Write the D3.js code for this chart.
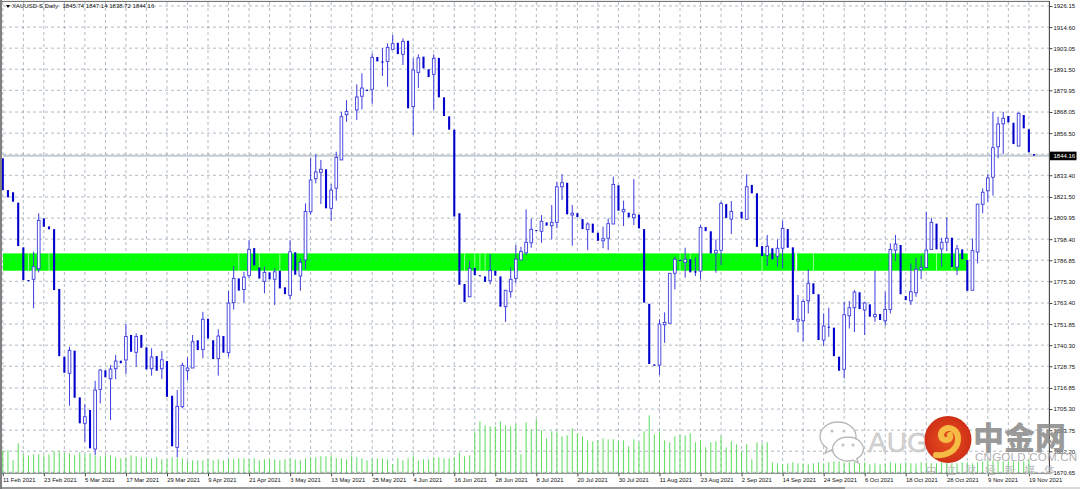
<!DOCTYPE html>
<html><head><meta charset="utf-8">
<script src="https://cdn.jsdelivr.net/npm/d3@7"></script>
<style>html,body{margin:0;padding:0;background:#fff;overflow:hidden}svg{display:block}</style>
</head><body><svg id="c" width="1080" height="489"></svg>
<script>
const dateLabels=["11 Feb 2021","23 Feb 2021","5 Mar 2021","17 Mar 2021","29 Mar 2021","9 Apr 2021","21 Apr 2021","3 May 2021","13 May 2021","25 May 2021","4 Jun 2021","16 Jun 2021","28 Jun 2021","8 Jul 2021","20 Jul 2021","30 Jul 2021","11 Aug 2021","23 Aug 2021","2 Sep 2021","14 Sep 2021","24 Sep 2021","6 Oct 2021","18 Oct 2021","28 Oct 2021","9 Nov 2021","19 Nov 2021"];
const priceTicks=[1926.15,1914.60,1903.05,1891.50,1879.95,1868.05,1856.50,1833.40,1821.50,1809.95,1798.40,1786.85,1775.30,1763.40,1751.85,1740.30,1728.75,1716.85,1705.30,1693.75,1682.20,1670.65];
const gridPrices=[1926.15,1914.60,1903.05,1891.50,1879.95,1868.05,1856.50,1844.95,1833.40,1821.50,1809.95,1798.40,1786.85,1775.30,1763.40,1751.85,1740.30,1728.75,1716.85,1705.30,1693.75,1682.20,1670.65];
const lastPrice=1844.16;
const bandTop=1790.6, bandBottom=1781.1, bandLastBar=188;
const bandStreakBars=[5,9,46,50,54,90,92,93,94,132,133,134,148,155,158,182,185];
const opens=[1842.7,1825.3,1824.1,1818.4,1793.9,1776.0,1776.4,1782.2,1809.8,1805.4,
1803.9,1771.1,1734.0,1724.9,1737.3,1711.7,1697.5,1704.8,1683.4,1716.1,
1726.5,1721.9,1727.4,1731.8,1732.2,1745.9,1736.4,1745.9,1739.1,1727.4,
1734.3,1727.4,1731.6,1712.6,1684.3,1706.6,1726.3,1727.8,1743.0,1738.0,
1754.8,1743.0,1732.9,1745.3,1736.2,1763.6,1776.9,1770.8,1778.4,1793.5,
1782.9,1775.3,1780.2,1776.4,1781.1,1772.0,1767.6,1791.2,1778.2,1787.0,
1813.4,1831.5,1835.0,1836.7,1815.3,1826.3,1841.8,1866.6,null,1869.2,
1876.7,1880.3,1880.5,1898.2,1895.8,1895.8,1902.4,1906.0,1899.7,1907.1,
1871.0,1889.8,1898.4,1891.5,1888.7,1897.7,1876.1,1865.7,1858.4,1812.6,
1773.8,1766.8,1782.6,1778.6,1778.0,1775.6,1781.1,1778.0,1761.4,1769.6,
1776.9,1787.0,1790.9,1796.4,1803.4,1802.7,1807.6,1805.8,1807.6,1827.1,
1829.3,1811.6,1812.6,1809.4,1803.6,1806.9,1801.9,1797.5,1798.9,1806.7,
1827.9,1813.4,1812.9,1810.1,1811.8,1803.9,1763.0,1729.8,1729.4,1751.5,
1752.3,1779.7,1787.1,1785.7,1787.4,1780.9,1780.9,1805.0,1802.7,1790.8,
1792.3,1817.6,1809.4,null,1813.4,1809.3,1828.1,1823.5,1794.6,1789.5,
1793.4,1789.0,1793.4,1803.9,1793.9,1753.5,1753.7,1764.6,1774.2,1768.2,
1743.1,1750.4,1749.9,1734.0,1727.1,1756.4,1760.8,1769.3,1759.6,1762.7,
1755.9,1757.4,1753.7,1759.9,1792.4,1795.2,1767.2,1764.6,1769.0,1781.9,
1782.9,1792.8,1806.9,1793.0,1796.7,1799.2,1783.1,1792.8,1787.0,1770.4,
1791.3,1817.5,1824.9,1832.3,1849.0,1861.6,1865.9,1862.2,1849.4,1866.4,
1858.6,1845.0];
const closes=[1825.3,1821.3,1818.9,1794.6,1776.0,1775.4,1783.3,1808.7,1805.2,1803.8,
1770.5,1734.3,1725.2,1737.5,1711.5,1697.5,1701.1,1683.8,1715.7,1726.7,
1722.7,1727.2,1731.6,1730.4,1745.1,1736.7,1745.1,1738.9,1727.1,1733.8,
1726.3,1732.3,1712.0,1684.9,1706.8,1729.3,1727.8,1742.2,1737.6,1754.5,
1744.0,1732.7,1745.3,1736.2,1763.4,1776.9,1770.2,1777.6,1792.8,1784.0,
1776.8,1780.2,1776.4,1780.5,1771.4,1768.3,1791.5,1778.9,1785.7,1813.6,
1830.8,1835.2,1836.7,1815.3,1825.3,1843.2,1865.5,1868.4,null,1876.3,
1881.2,1879.6,1898.0,1895.8,1895.1,1903.5,1905.5,1899.8,1906.8,1870.1,
1891.1,1897.7,1892.0,1887.2,1897.5,1876.1,1865.9,1858.4,1810.8,1773.4,
1763.9,1782.4,1778.6,1778.1,1775.0,1781.2,1778.4,1761.4,1770.4,1776.4,
1787.4,1791.7,1796.7,1803.8,1802.8,1808.2,1805.8,1807.6,1827.1,1829.3,
1812.0,1812.6,1810.4,1803.9,1806.7,1801.9,1797.5,1798.6,1806.9,1828.4,
1814.0,1814.7,1810.4,1812.0,1804.3,1763.6,1730.0,1729.0,1751.9,1752.8,
1779.7,1787.4,1786.4,1787.4,1780.2,1780.0,1804.9,1802.8,1790.6,1792.3,
1818.0,1810.0,1813.6,null,1809.8,1827.1,1823.5,1794.2,1789.1,1794.5,
1787.4,1793.4,1804.3,1793.7,1754.1,1754.5,1764.3,1774.2,1768.3,1743.1,
1750.8,1749.9,1734.3,1726.3,1757.0,1760.8,1769.4,1760.1,1763.4,1755.9,
1757.2,1754.1,1759.9,1792.8,1795.7,1768.2,1765.0,1769.6,1781.9,1782.9,
1792.4,1807.6,1792.8,1796.7,1798.9,1783.1,1793.1,1787.4,1770.1,1792.1,
1817.6,1824.1,1831.9,1848.5,1861.5,1864.6,1862.4,1850.5,1867.4,1859.1,
1846.0,1844.16];
const highs=[null,null,null,null,null,null,1791.5,1812.6,null,null,
null,null,null,1739.4,null,null,1707.9,null,1720.8,1727.2,
null,1729.4,1734.9,null,1751.9,null,1746.8,null,null,1738.6,
null,1737.1,null,null,1715.7,1730.7,1733.6,1745.9,null,1758.6,
null,null,1749.0,null,1770.0,1783.7,null,1780.5,1797.9,null,
null,1783.3,null,1782.4,null,null,1797.9,null,1787.9,1818.0,
1843.0,1844.9,1841.8,null,1828.6,1846.3,1868.2,1874.6,null,1883.2,
1889.3,null,1900.2,null,1903.0,1905.7,1910.3,null,1908.4,null,
1897.5,1899.7,null,null,1899.7,null,null,null,null,null,
null,1786.5,null,null,null,1790.2,null,null,null,1782.9,
1795.2,1794.2,1814.7,1809.8,null,1811.6,null,1817.1,1829.9,1833.9,
null,1817.1,null,null,1807.6,null,null,1805.2,1809.8,1832.6,
null,1819.5,null,1831.3,null,null,null,null,1754.5,1758.3,
null,1788.8,null,1793.7,null,1788.4,1806.1,null,null,1798.3,
1818.9,null,1819.3,null,null,1833.9,null,null,null,1800.7,
null,1798.3,1808.5,null,null,1767.8,1765.4,1781.9,null,null,
1757.7,1760.8,null,null,1764.1,1764.5,1770.5,null,1764.1,null,
1781.1,null,1769.6,1796.1,1800.7,null,null,1785.1,1788.2,1789.3,
1813.4,1810.1,null,1799.2,1810.4,null,1795.2,null,null,1798.8,
null,1826.2,1834.1,1868.2,1865.5,1868.2,null,null,1867.7,null,
null,null];
const lows=[null,null,null,null,null,null,1760.5,1780.2,null,null,
null,null,null,1707.1,null,null,1687.4,null,1680.1,1708.4,
null,1699.3,1721.7,null,1724.5,null,1728.5,null,null,1723.6,
null,1721.7,null,null,1678.8,1705.7,1721.2,null,null,1733.1,
null,null,1723.6,null,1734.0,1759.8,null,1763.6,1777.1,null,
null,1768.7,null,1762.3,null,null,1765.4,null,1770.1,1781.9,
1812.0,1829.0,1817.6,null,1808.5,1819.5,null,1862.7,null,1863.7,
1869.5,null,1872.5,null,1887.8,1881.9,null,null,1893.8,null,
1855.5,1881.1,null,null,1869.2,null,null,null,null,null,
null,null,null,null,null,1773.6,null,null,1753.1,1766.3,
1774.2,null,1789.7,1793.7,null,1796.4,null,1798.3,1804.3,1819.8,
null,1794.8,null,null,1792.4,null,null,1793.4,1792.4,null,
null,1805.6,null,1806.1,null,null,null,null,1723.9,1741.6,
null,1770.9,null,1777.3,null,1778.2,1776.4,null,null,1780.0,
1784.2,null,1801.2,null,null,null,null,null,null,1783.7,
null,1783.3,1782.4,null,null,1747.3,1742.2,1757.7,null,null,
1740.0,1744.9,null,null,1722.1,1749.5,1747.5,null,1745.9,null,
1753.1,null,1751.0,1757.7,1786.4,null,null,1762.3,1766.8,1776.5,
null,null,null,1783.3,1791.9,null,1778.7,null,null,null,
1785.1,1812.6,1818.9,1822.2,1842.7,1845.0,null,null,null,null,
null,null];
const volumes=[23,23,13,30,19,18,19,19,18,19,
22,22,20,20,18,21,19,20,18,17,
18,18,16,15,16,18,17,16,16,15,
16,14,14,16,15,15,12,13,13,13,
14,13,14,13,14,14,15,15,14,15,
13,14,14,14,13,14,15,14,13,15,
16,16,17,17,18,15,15,14,18,16,
15,13,15,15,15,14,9,15,13,15,
18,13,14,14,16,16,15,15,16,21,
17,18,42,52,48,47,47,52,48,47,
49,19,51,44,54,43,35,42,42,37,
38,45,40,37,33,32,33,35,34,34,
32,33,27,34,31,42,58,39,42,33,
31,37,38,38,40,31,33,26,31,32,
37,26,32,29,22,29,14,31,30,31,
11,10,9,10,11,10,10,9,10,11,
10,11,12,12,11,11,11,10,11,9,
10,9,10,11,10,10,11,10,10,11,
11,10,10,11,11,10,10,11,11,10,
11,12,13,13,13,12,12,12,12,12,
13,1];

const svg=d3.select("#c");
const font="'Liberation Sans',Arial,sans-serif";
const BLUE="#0000cd", BLUEL="#3c3cde";
const x=d3.scaleLinear().domain([0,201]).range([2.8,1034]);
const y=d3.scaleLinear().domain([1670.65,1926.15]).range([472.3,6]);
const v=d3.scaleLinear().domain([0,60]).range([473.3,413.3]);
const RIGHT=1049.4, BOTTOM=473.3;
const gridBars=d3.range(0,204,4).filter(i=>x(i)<RIGHT);
const gridStyle=s=>s.attr("fill","none").attr("stroke","#7f8fa0").attr("stroke-opacity",.62).attr("stroke-width",1).attr("stroke-dasharray","3 3");

// grid
const grid=svg.append("g");
grid.selectAll("line.h").data(gridPrices).join("line").attr("class","h")
 .attr("x1",3).attr("x2",RIGHT).attr("y1",d=>y(d)).attr("y2",d=>y(d)).call(gridStyle);
grid.selectAll("line.v").data(gridBars).join("line").attr("class","v")
 .attr("x1",d=>x(d)).attr("x2",d=>x(d)).attr("y1",2).attr("y2",BOTTOM).call(gridStyle);

// last price line
svg.append("line").attr("x1",3).attr("x2",RIGHT).attr("y1",y(lastPrice)).attr("y2",y(lastPrice))
 .attr("stroke","#c4ccd4").attr("stroke-width",2);

// band
svg.append("rect").attr("x",3).attr("width",x(bandLastBar)+0.5-3)
 .attr("y",y(bandTop)).attr("height",y(bandBottom)-y(bandTop)).attr("fill","#00ff00");
svg.selectAll("line.bgrid").data([1786.85]).join("line").attr("class","bgrid")
 .attr("x1",3).attr("x2",x(bandLastBar)+0.5).attr("y1",d=>y(d)).attr("y2",d=>y(d))
 .attr("stroke","#2fd43f").attr("stroke-dasharray","3 3");
svg.selectAll("line.streak").data(bandStreakBars).join("line").attr("class","streak")
 .attr("x1",d=>x(d)+(d===155?-1.8:0)).attr("x2",d=>x(d)+(d===155?-1.8:0))
 .attr("y1",y(bandTop)).attr("y2",y(bandBottom))
 .attr("stroke","#fff").attr("stroke-opacity",d=>d===155?1:.6).attr("stroke-width",d=>d===155?2:1);

// volumes
svg.selectAll("line.vol").data(volumes).join("line").attr("class","vol")
 .attr("x1",(d,i)=>x(i)).attr("x2",(d,i)=>x(i)).attr("y1",v(0)).attr("y2",d=>v(d))
 .attr("stroke","#5cdc5c").attr("stroke-width",1);

// candles
const bars=d3.range(opens.length).filter(i=>opens[i]!==null).map(i=>({i,o:opens[i],c:closes[i],h:highs[i],l:lows[i]}));
const cg=svg.selectAll("g.bar").data(bars).join("g").attr("class","bar");
cg.filter(d=>d.h!==null||d.l!==null).append("line")
 .attr("x1",d=>x(d.i)).attr("x2",d=>x(d.i))
 .attr("y1",d=>y(d.h!==null?d.h:Math.max(d.o,d.c))).attr("y2",d=>y(d.l!==null?d.l:Math.min(d.o,d.c)))
 .attr("stroke",BLUEL).attr("stroke-width",1);
cg.filter(d=>d.c<d.o).append("rect")
 .attr("x",d=>x(d.i)-1.05).attr("width",2.1)
 .attr("y",d=>y(d.o)).attr("height",d=>Math.max(1,y(d.c)-y(d.o))).attr("fill",BLUE);
cg.filter(d=>d.c>=d.o).append("rect")
 .attr("x",d=>x(d.i)-1.35).attr("width",2.7)
 .attr("y",d=>y(d.c)).attr("height",d=>Math.max(1,y(d.o)-y(d.c)))
 .attr("fill","#fff").attr("stroke",BLUEL).attr("stroke-width",.9);

// frame
svg.append("rect").attr("x",0).attr("y",0).attr("width",2).attr("height",489).attr("fill","#808080");
svg.append("line").attr("x1",2).attr("x2",RIGHT).attr("y1",1.4).attr("y2",1.4).attr("stroke","#666");
svg.append("line").attr("x1",0).attr("x2",845).attr("y1",488).attr("y2",488).attr("stroke","#777").attr("stroke-width",1.4);
svg.append("line").attr("x1",845).attr("x2",1080).attr("y1",488).attr("y2",488).attr("stroke","#ccc").attr("stroke-width",1.4);

// axes
const yAxis=d3.axisRight(y).tickValues(priceTicks).tickFormat(d3.format(".2f")).tickSize(3).tickPadding(1);
const ga=svg.append("g").attr("transform",`translate(${RIGHT},0)`).call(yAxis);
ga.select(".domain").attr("d",`M0,1V${BOTTOM}`).attr("stroke","#444").attr("stroke-width",1.1);
ga.selectAll("line").attr("stroke","#444");
ga.selectAll("text").attr("font-family",font).attr("font-size",6).attr("fill","#111");
const xAxis=d3.axisBottom(x).tickValues(dateLabels.map((d,k)=>k*8)).tickFormat((d,k)=>dateLabels[k]).tickSize(3).tickPadding(2);
const gb=svg.append("g").attr("transform",`translate(0,${BOTTOM})`).call(xAxis);
gb.select(".domain").attr("d",`M2,0H${RIGHT}`).attr("stroke","#777").attr("stroke-width",1);
gb.selectAll("line").attr("stroke","#444");
gb.selectAll("text").attr("font-family",font).attr("font-size",5.85).attr("fill","#111").attr("text-anchor","start").attr("dx",-0.3).attr("y",5);

// last price tag
svg.append("rect").attr("x",1050).attr("y",y(lastPrice)-4).attr("width",26.5).attr("height",8.6).attr("fill","#000");
svg.append("text").attr("x",1053.5).attr("y",y(lastPrice)+2.3).text(lastPrice.toFixed(2))
 .attr("font-family",font).attr("font-size",6).attr("fill","#fff");

// title
svg.append("path").attr("d","M6,5H10L8,8Z").attr("fill","#000");
svg.append("text").attr("x",12).attr("y",8.2).text("XAUUSD-S,Daily")
 .attr("font-family",font).attr("font-size",6).attr("fill","#111");
svg.append("text").attr("x",62.5).attr("y",8.2).text("1845.74 1847.14 1838.72 1844.16")
 .attr("font-family",font).attr("font-size",6).attr("fill","#111");

// watermark
const wm=svg.append("g");
const wc=wm.append("g").attr("fill","#fff").attr("stroke","#b9b9b9").attr("stroke-width",1.4);
wc.append("path").attr("d","M838,422c-10,0-18,6.5-18,14.5c0,4.8,2.8,8.8,7,11.5l-1.8,5l6-3c2.2,.6,4.4,.9,6.8,.9c10,0,18-6.5,18-14.5s-8-14.4-18-14.4z");
wc.append("path").attr("d","M848,437c-8.6,0-15.4,5.4-15.4,12s6.8,12,15.4,12c1.8,0,3.6-.3,5.2-.7l5,2.6l-1.4-4.2c4-2.2,6.6-5.8,6.6-9.7c0-6.6-6.8-12-15.4-12z");
wc.selectAll("circle").data([[832,431],[844,431],[843,445],[853,445]]).join("circle")
 .attr("cx",d=>d[0]).attr("cy",d=>d[1]).attr("r",1.6).attr("fill","#c4c4c4").attr("stroke","none");
wm.append("text").attr("x",868).attr("y",452).text("AUG").attr("font-family",font).attr("font-size",28).attr("fill","#d2d2d2").attr("stroke","#b5b5b5").attr("stroke-width",.3);
const defs=svg.append("defs");
const rg=defs.append("radialGradient").attr("id","rg");
rg.append("stop").attr("offset","0%").attr("stop-color","#e8521f");
rg.append("stop").attr("offset","100%").attr("stop-color","#cf2f17");
wm.append("circle").attr("cx",948).attr("cy",439.5).attr("r",23.5).attr("fill","url(#rg)");
wm.append("path").attr("d","M936,455c10,1,21,-4,22,-15c.8,-9,-7,-14,-13,-11c-6,3,-5,11,1,11c4,0,5,-3,4,-5")
 .attr("fill","none").attr("stroke","#f6bb45").attr("stroke-width",6).attr("stroke-linecap","round");
wm.append("text").attr("x",973).attr("y",449).text("中金网")
 .attr("font-family","'Noto Sans CJK SC'").attr("font-weight",900).attr("font-size",31).attr("fill","#8c8c8c").attr("fill-opacity",.9);
wm.append("text").attr("x",975).attr("y",461).text("CNGOLD.COM.CN")
 .attr("font-family",font).attr("font-size",11.6).attr("letter-spacing",.2).attr("fill","#b0b0b0");
wm.append("text").attr("x",926).attr("y",474).text("中立财经新媒体")
 .attr("font-family","'Noto Sans CJK SC'").attr("font-size",10.5).attr("letter-spacing",9.2).attr("fill","#bdbdbd");
</script></body></html>
